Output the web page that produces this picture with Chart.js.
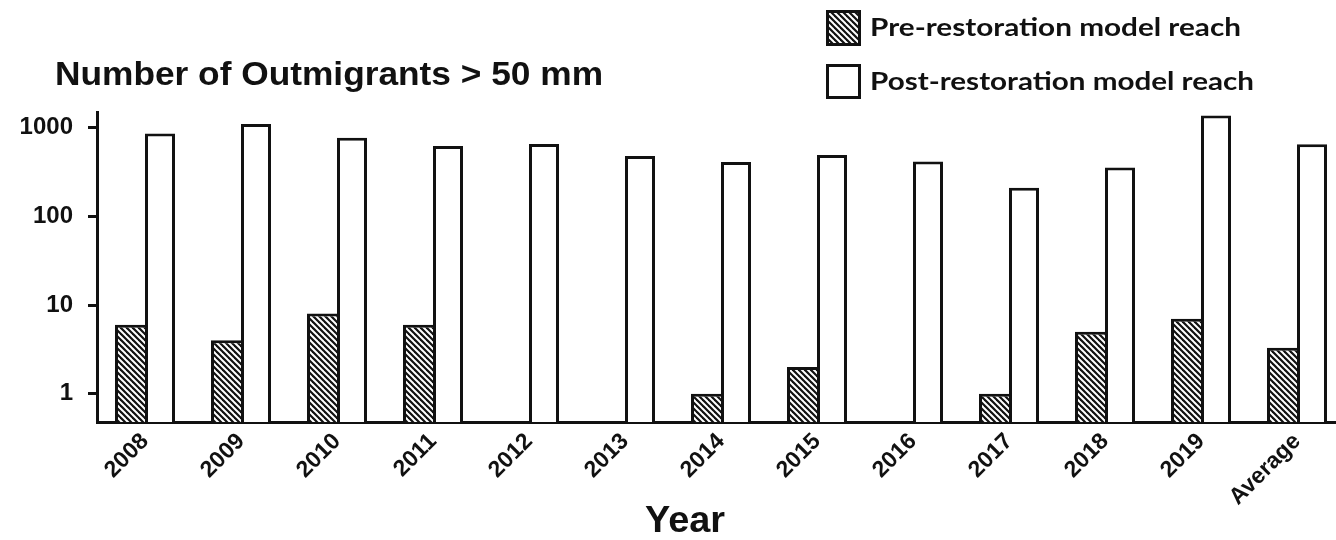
<!DOCTYPE html>
<html>
<head>
<meta charset="utf-8">
<script src="https://cdn.jsdelivr.net/npm/chart.js@4.4.1/dist/chart.umd.min.js"></script>
<style>
  html, body { margin: 0; padding: 0; background: #fff; overflow: hidden; }
  #wrap { width: 1345px; height: 540px; }
</style>
</head>
<body>
<div id="wrap"><canvas id="chart" width="1345" height="540"></canvas></div>
<script>
// Outmigrant counts (> 50 mm) per year, log scale
const years = ['2008', '2009', '2010', '2011', '2012', '2013', '2014', '2015', '2016', '2017', '2018', '2019', 'Average'];
const preRestoration = [6, 4, 8, 6, 0, 0, 1, 2, 0, 1, 5, 7, 3.3];
const postRestoration = [860, 1100, 770, 620, 655, 480, 410, 490, 415, 210, 355, 1370, 650];
const yTickValues = [1, 10, 100, 1000];
const seriesLabels = ['Pre-restoration model reach', 'Post-restoration model reach'];
const titleText = 'Number of Outmigrants > 50 mm';
const xTitleText = 'Year';

// diagonal hatch fill (black with thin white "\" stripes)
function makeHatch() {
  const s = 6;
  const c = document.createElement('canvas');
  c.width = s; c.height = s;
  const g = c.getContext('2d');
  g.fillStyle = '#111';
  g.fillRect(0, 0, s, s);
  g.strokeStyle = '#fff';
  g.lineWidth = 2;
  for (let k = -1; k <= 1; k++) {
    g.beginPath();
    g.moveTo(k * s - 1, -1);
    g.lineTo(k * s + s + 1, s + 1);
    g.stroke();
  }
  return g.createPattern(c, 'repeat');
}
const ctx0 = document.getElementById('chart').getContext('2d');
const hatch = makeHatch();

const ARIAL = "'Liberation Sans', Arial, sans-serif";

function fitText(ctx, text, x, y, width, font) {
  ctx.save();
  ctx.font = font;
  const w = ctx.measureText(text).width;
  ctx.translate(x, y);
  ctx.scale(width / w, 1);
  ctx.textAlign = 'left';
  ctx.textBaseline = 'alphabetic';
  ctx.fillText(text, 0, 0);
  ctx.restore();
}

// title, legend and x-axis title
const decorations = {
  id: 'decorations',
  afterDraw(chart) {
    const ctx = chart.ctx;
    ctx.save();
    ctx.fillStyle = '#111';
    fitText(ctx, titleText, 55, 85, 548, 'bold 33px ' + ARIAL);
    fitText(ctx, xTitleText, 645, 532, 80, 'bold 36px ' + ARIAL);

    const boxes = [[826, 10, 35, 36, 36, 371], [826, 64, 35, 35, 90, 384]];
    chart.data.datasets.forEach((ds, i) => {
      const [bx, by, bw, bh, base, tw] = boxes[i];
      ctx.fillStyle = ds.backgroundColor;
      ctx.fillRect(bx, by, bw, bh);
      ctx.lineWidth = 3;
      ctx.strokeStyle = '#111';
      ctx.strokeRect(bx + 1.5, by + 1.5, bw - 3, bh - 3);
      ctx.fillStyle = '#111';
      fitText(ctx, ds.label, 870, base, tw, 'bold 24px Lato, sans-serif');
    });
    ctx.restore();
  }
};

new Chart(ctx0, {
  type: 'bar',
  data: {
    labels: years,
    datasets: [
      {
        label: seriesLabels[0],
        data: preRestoration,
        backgroundColor: hatch,
        borderColor: '#111',
        borderWidth: { top: 3, left: 3, right: 0, bottom: 0 },
        borderSkipped: false
      },
      {
        label: seriesLabels[1],
        data: postRestoration,
        backgroundColor: '#fff',
        borderColor: '#111',
        borderWidth: { top: 3, left: 3, right: 3, bottom: 0 },
        borderSkipped: false
      }
    ]
  },
  options: {
    responsive: false,
    animation: false,
    events: [],
    layout: { padding: { top: 112, left: 0, right: 0, bottom: 0 } },
    datasets: { bar: { barPercentage: 1, categoryPercentage: 0.625 } },
    plugins: { legend: { display: false }, title: { display: false }, tooltip: { enabled: false } },
    scales: {
      x: {
        type: 'category',
        offset: true,
        grid: { display: false, drawTicks: false },
        border: { display: true, color: '#111', width: 3 },
        ticks: {
          minRotation: 45, maxRotation: 45, autoSkip: false,
          padding: 6,
          color: '#111',
          font: { family: ARIAL, size: 23, weight: 'bold' }
        },
        afterFit(scale) { scale.height = 118; }
      },
      y: {
        type: 'logarithmic',
        min: 0.48,
        max: 1500,
        grid: { display: true, drawOnChartArea: false, drawTicks: true, tickLength: 9, lineWidth: 3, color: '#111' },
        border: { display: true, color: '#111', width: 3 },
        ticks: {
          padding: 15,
          color: '#111',
          font: { family: ARIAL, size: 24, weight: 'bold' },
          callback: (v) => String(v)
        },
        afterBuildTicks(scale) { scale.ticks = yTickValues.map(v => ({ value: v })); },
        afterFit(scale) { scale.width = 97; }
      }
    }
  },
  plugins: [decorations]
});
</script>
</body>
</html>
